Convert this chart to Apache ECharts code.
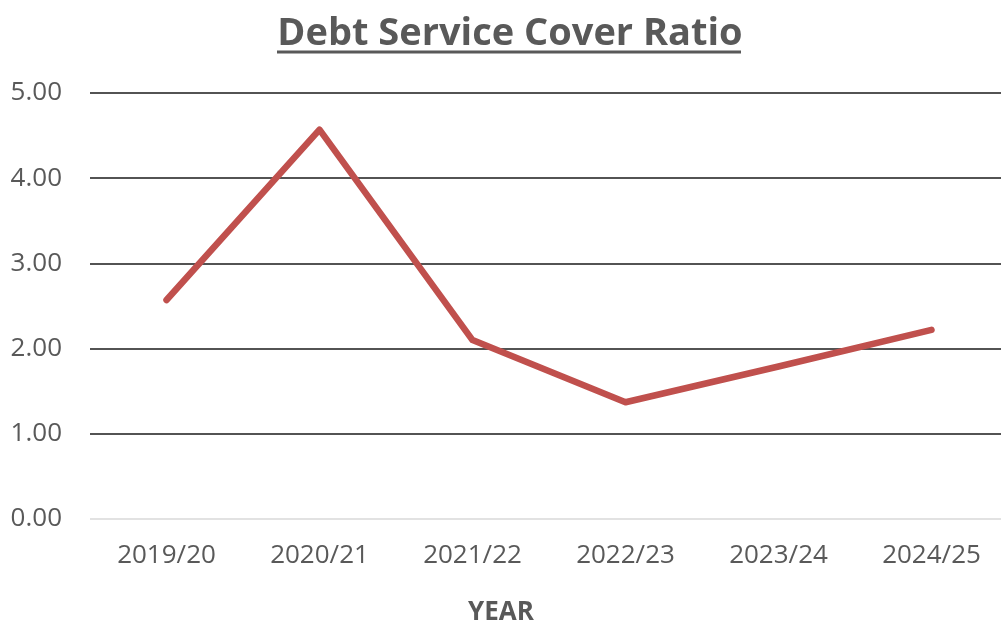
<!DOCTYPE html>
<html>
<head>
<meta charset="utf-8">
<script src="https://cdn.jsdelivr.net/npm/echarts@6/dist/echarts.min.js"></script>
<style>
  html, body { margin: 0; padding: 0; background: #fff; }
  #chart { width: 1001px; height: 623px; }
</style>
</head>
<body>
<div id="chart"></div>
<script>
const years = ['2019/20', '2020/21', '2021/22', '2022/23', '2023/24', '2024/25'];
const dscr = [2.57, 4.57, 2.10, 1.37, 1.79, 2.22];
const yTicks = [0, 1, 2, 3, 4, 5];

const chart = echarts.init(document.getElementById('chart'));
const textGrey = '#595959';

chart.setOption({
    animation: false,
    title: {
        text: 'Debt Service Cover Ratio',
        left: 505,
        top: 10,
        textAlign: 'center',
        textStyle: {
            fontFamily: 'Open Sans',
            fontSize: 38,
            fontWeight: 'bold',
            color: textGrey
        }
    },
    graphic: [
        {
            type: 'line',
            shape: { x1: 277, y1: 52, x2: 741, y2: 52 },
            style: { stroke: textGrey, lineWidth: 3 }
        }
    ],
    grid: {
        left: 90,
        width: 918,
        top: 93,
        bottom: 104,
        containLabel: false,
        outerBoundsMode: 'none'
    },
    xAxis: {
        type: 'category',
        data: years,
        name: 'YEAR',
        nameLocation: 'middle',
        nameGap: 81,
        nameTextStyle: {
            fontFamily: 'Open Sans',
            fontSize: 26,
            fontWeight: 'bold',
            color: textGrey,
            padding: [0, 96, 0, 0]
        },
        axisLine: { show: false },
        axisTick: { show: false },
        axisLabel: {
            margin: 24,
            fontFamily: 'Open Sans',
            fontSize: 26,
            color: textGrey
        }
    },
    yAxis: {
        type: 'value',
        min: yTicks[0],
        max: yTicks[yTicks.length - 1],
        interval: 1,
        axisLine: { show: false },
        axisTick: { show: false },
        axisLabel: {
            margin: 28,
            fontFamily: 'Open Sans',
            fontSize: 26,
            color: textGrey,
            formatter: v => v.toFixed(2)
        },
        splitLine: {
            lineStyle: {
                color: ['#d9d9d9', '#1a1a1a', '#1a1a1a', '#1a1a1a', '#1a1a1a', '#1a1a1a'],
                width: 1.6
            }
        }
    },
    series: [
        {
            name: 'DSCR',
            type: 'line',
            data: dscr,
            symbol: 'none',
            lineStyle: { color: '#c0504d', width: 6.5, cap: 'round', join: 'round' }
        }
    ]
});
</script>
</body>
</html>
